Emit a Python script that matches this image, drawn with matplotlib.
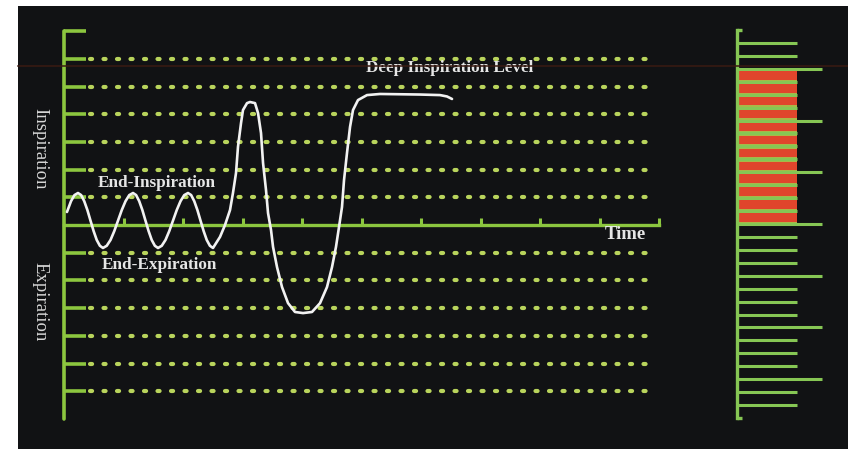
import matplotlib
matplotlib.use("Agg")
import matplotlib.pyplot as plt
from matplotlib.patches import Rectangle
from matplotlib.lines import Line2D
from matplotlib.ticker import FixedLocator

# ---------------- data ----------------
# breathing trace: time (tick units) and lung volume (grid levels, 0 = resting level)
trace_t = [0.050, 0.118, 0.176, 0.235,
           0.288, 0.340, 0.393, 0.445, 0.498, 0.550, 0.603, 0.655,
           0.718, 0.782, 0.845, 0.908, 0.971, 1.034, 1.097, 1.160,
           1.212, 1.264, 1.317, 1.369, 1.422, 1.474, 1.527, 1.580,
           1.643, 1.706, 1.769, 1.832, 1.895, 1.958, 2.021, 2.084,
           2.137, 2.189, 2.242, 2.294, 2.347, 2.399, 2.452, 2.504,
           2.622, 2.706, 2.790, 2.840, 2.891, 2.924, 2.975, 3.008, 3.076,
           3.126, 3.210, 3.261, 3.311, 3.345, 3.395, 3.429, 3.479, 3.513,
           3.580, 3.664, 3.765, 3.882, 4.017, 4.168, 4.303, 4.420, 4.504,
           4.571, 4.622, 4.672, 4.706, 4.756, 4.807, 4.857, 4.941, 5.092,
           5.311, 5.983, 6.319, 6.437, 6.521]
trace_v = [0.47, 0.86, 1.08, 1.155,
           1.08, 0.86, 0.54, 0.16, -0.22, -0.54, -0.75, -0.83,
           -0.75, -0.54, -0.22, 0.16, 0.54, 0.86, 1.08, 1.155,
           1.08, 0.86, 0.54, 0.16, -0.22, -0.54, -0.75, -0.83,
           -0.75, -0.54, -0.22, 0.16, 0.54, 0.86, 1.08, 1.155,
           1.08, 0.86, 0.54, 0.16, -0.22, -0.54, -0.75, -0.83,
           -0.43, 0.00, 0.54, 1.16, 1.88, 2.82, 3.68, 4.15, 4.40,
           4.44, 4.40, 4.04, 3.32, 2.24, 1.26, 0.43, -0.18, -0.79,
           -1.52, -2.24, -2.82, -3.14, -3.18, -3.14, -2.82, -2.24, -1.52,
           -0.79, -0.07, 0.65, 1.62, 2.60, 3.54, 4.15, 4.51, 4.69,
           4.73, 4.71, 4.69, 4.64, 4.55]

grid_levels = [-6, -5, -4, -3, -2, -1, 1, 2, 3, 4, 5, 6]
y_tick_levels = [-6, -5, -4, -3, -2, -1, 1, 2, 3, 4, 5, 6, 7]
time_ticks = [1, 2, 3, 4, 5, 6, 7, 8, 9, 10]

# meter panel
meter_minor = [l for l in range(-14, 15) if l % 4 != 0]
meter_major = [-12, -8, -4, 0, 4, 8, 12]
meter_fill_top = 12          # red fill from resting level up to this level
meter_segments = list(range(0, meter_fill_top))

labels = {
    "end_insp": "End-Inspiration",
    "end_exp": "End-Expiration",
    "deep": "Deep Inspiration Level",
    "time": "Time",
    "insp": "Inspiration",
    "exp": "Expiration",
}

# ---------------- style ----------------
BG = "#111214"
AXIS_GREEN = "#8cc63f"
DOT_GREEN = "#b9d45c"
METER_GREEN = "#86c654"
RED = "#e0452c"
TEXT = "#e6e6e6"
SERIF = ["Liberation Serif", "DejaVu Serif"]

W, H = 848, 449
fig = plt.figure(figsize=(W / 100, H / 100), dpi=100)
fig.patch.set_facecolor("white")
fig.add_artist(Rectangle((18 / W, 0), 1 - 18 / W, (H - 6) / H, transform=fig.transFigure,
                         facecolor=BG, edgecolor="none", zorder=0))
# faint reddish scan line
fig.add_artist(Line2D([18 / W, 1], [(H - 66) / H, (H - 66) / H], transform=fig.transFigure,
                      color="#3a1a12", lw=1.1, zorder=0.5))

# ---------------- main chart ----------------
ppu_y = 27.7
ylo, yhi = -7.2, 7.2
ax_top_px = 225 - yhi * ppu_y
ax_bot_px = 225 - ylo * ppu_y
ax = fig.add_axes([64 / W, (H - ax_bot_px) / H, 598 / W, (ax_bot_px - ax_top_px) / H])
ax.set_facecolor("none")
ax.set_xlim(0, 10.05)
ax.set_ylim(ylo, yhi)

for s in ["top", "right"]:
    ax.spines[s].set_visible(False)
ax.spines["left"].set_bounds(-7, 7)
ax.spines["left"].set_color(AXIS_GREEN)
ax.spines["left"].set_linewidth(2.6)
ax.spines["left"].set_capstyle("round")
ax.spines["bottom"].set_position(("data", 0))
ax.spines["bottom"].set_bounds(0, 10)
ax.spines["bottom"].set_color(AXIS_GREEN)
ax.spines["bottom"].set_linewidth(2.4)

ax.yaxis.set_major_locator(FixedLocator(y_tick_levels))
ax.tick_params(axis="y", direction="in", length=16, width=2.6, color=AXIS_GREEN,
               labelleft=False)
ax.xaxis.set_major_locator(FixedLocator(time_ticks))
ax.tick_params(axis="x", direction="in", length=5, width=2.2, color=AXIS_GREEN,
               labelbottom=False)

for lv in grid_levels:
    ax.plot([0.44, 9.83], [lv, lv], color=DOT_GREEN, lw=3.0,
            linestyle=(0, (0.5, 2.74)), dash_capstyle="round", zorder=2)

ax.plot(trace_t, trace_v, color="#f2f2f2", lw=1.9, solid_joinstyle="round",
        solid_capstyle="round", zorder=4)

ax.text(1.56, 1.52, labels["end_insp"], color=TEXT, fontsize=12.3, fontweight="bold",
        family=SERIF, ha="center", va="center", zorder=5)
ax.text(1.60, -1.44, labels["end_exp"], color=TEXT, fontsize=12.3, fontweight="bold",
        family=SERIF, ha="center", va="center", zorder=5)
ax.text(6.49, 5.67, labels["deep"], color=TEXT, fontsize=12.3, fontweight="bold",
        family=SERIF, ha="center", va="center", zorder=5)
ax.text(9.43, -0.36, labels["time"], color=TEXT, fontsize=13.5, fontweight="bold",
        family=SERIF, ha="center", va="center", zorder=5)

fig.text(40 / W, (H - 149) / H, labels["insp"], color="#d8d8d8", fontsize=13.5,
         family=SERIF, rotation=-90, ha="center", va="center")
fig.text(40 / W, (H - 302) / H, labels["exp"], color="#d8d8d8", fontsize=13.5,
         family=SERIF, rotation=-90, ha="center", va="center")

# ---------------- meter panel ----------------
ppu_m = 12.93
mlo, mhi = -15.3, 15.3
m_top = 224 - mhi * ppu_m
m_bot = 224 - mlo * ppu_m
mx = fig.add_axes([737 / W, (H - m_bot) / H, 100 / W, (m_bot - m_top) / H])
mx.set_facecolor("none")
mx.set_xlim(0, 100)
mx.set_ylim(mlo, mhi)
for s in ["top", "right", "bottom"]:
    mx.spines[s].set_visible(False)
mx.spines["left"].set_bounds(-15, 15)
mx.spines["left"].set_color(METER_GREEN)
mx.spines["left"].set_linewidth(2.4)
mx.yaxis.set_major_locator(FixedLocator(meter_major))
mx.yaxis.set_minor_locator(FixedLocator(meter_minor))
mx.tick_params(axis="y", which="major", direction="in", length=61, width=2.2,
               color=METER_GREEN, labelleft=False)
mx.tick_params(axis="y", which="minor", direction="in", length=43, width=2.2,
               color=METER_GREEN, labelleft=False)
mx.set_xticks([])
mx.hlines([-15, 15], 0, 5, color=METER_GREEN, lw=2.4)

mx.bar(30, meter_fill_top, width=60, bottom=0, color="#a9b848", zorder=1.5)
mx.bar([31] * len(meter_segments), [0.66] * len(meter_segments), width=58,
       bottom=[s + 0.17 for s in meter_segments], color=RED, zorder=1.6)

fig.savefig("out.png", dpi=100, facecolor=fig.get_facecolor())
